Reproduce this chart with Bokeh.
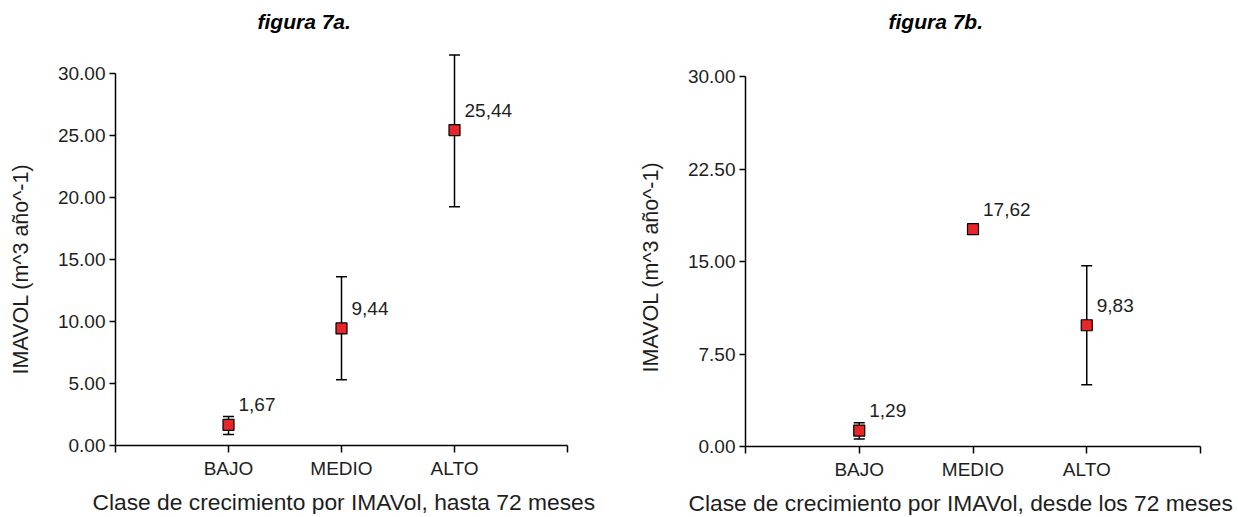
from bokeh.plotting import figure
from bokeh.models import (ColumnDataSource, Whisker, TeeHead, FixedTicker, Title,
                          NumeralTickFormatter, Range1d)
from bokeh.layouts import row
from bokeh.embed import file_html
from bokeh.resources import INLINE
from bokeh.core.properties import value

categories = ["BAJO", "MEDIO", "ALTO"]

# figura 7a (hasta 72 meses)
a_mean = [1.67, 9.44, 25.44]
a_lower = [0.89, 5.30, 19.25]
a_upper = [2.34, 13.60, 31.50]
a_ticks = [0, 5, 10, 15, 20, 25, 30]

# figura 7b (desde los 72 meses)
b_mean = [1.29, 17.62, 9.83]
b_lower = [0.60, None, 5.00]
b_upper = [1.92, None, 14.66]
b_ticks = [0, 7.5, 15, 22.5, 30]

FONT = "Liberation Sans"
TXT = "#1e1e1e"
TOP = 48  # frame top (px)


def spacer(standoff):
    # blank side panel used only to push the next panel outwards
    return Title(text="x", text_font_size="1px", text_color="white", standoff=standoff)


def make(title, xlabel, ylabel, means, lowers, uppers, ticks,
         b_left, f_width, b_right, f_height, px_per_unit,
         title_off, ylabel_off, xlabel_off):
    nx = len(categories) + 1
    y_end = f_height / px_per_unit
    p = figure(frame_width=f_width, frame_height=f_height,
               min_border_left=b_left, min_border_right=b_right,
               min_border_top=TOP, min_border_bottom=20,
               x_range=Range1d(0, nx), y_range=Range1d(0, y_end),
               output_backend="svg", toolbar_location=None)
    p.outline_line_color = None
    p.grid.visible = False
    p.background_fill_color = "white"
    p.border_fill_color = "white"

    # title (spacer next to the frame, then the title)
    p.add_layout(spacer(13), "above")
    p.add_layout(Title(text=title, align="left", offset=title_off, standoff=0,
                       text_font=FONT, text_font_size="21px",
                       text_font_style="bold italic", text_color="black"), "above")

    xs = list(range(1, len(categories) + 1))
    labels = [f"{v:.2f}".replace(".", ",") for v in means]
    src = ColumnDataSource(dict(x=xs, y=means, label=labels))

    wx = [x for x, lo in zip(xs, lowers) if lo is not None]
    wl = [lo for lo in lowers if lo is not None]
    wu = [up for up in uppers if up is not None]
    wsrc = ColumnDataSource(dict(x=wx, lower=wl, upper=wu))
    w = Whisker(source=wsrc, base="x", lower="lower", upper="upper",
                line_color="black", line_width=1.5,
                upper_head=TeeHead(size=11, line_color="black", line_width=1.5),
                lower_head=TeeHead(size=11, line_color="black", line_width=1.5))
    p.add_layout(w)

    p.scatter("x", "y", source=src, marker="square", size=11,
              fill_color="#e8262a", line_color="black", line_width=1.2)
    p.text("x", "y", text="label", source=src, x_offset=10, y_offset=-20,
           text_align="left", text_baseline="middle",
           text_font=value(FONT), text_font_size="19px", text_color=TXT)

    # axes
    xa = p.xaxis[0]
    xa.ticker = FixedTicker(ticks=[0] + xs + [nx])
    ov = {0: "", nx: ""}
    for x, c in zip(xs, categories):
        ov[x] = c
    xa.major_label_overrides = ov
    xa.bounds = (0, nx)
    ya = p.yaxis[0]
    ya.ticker = FixedTicker(ticks=ticks)
    ya.formatter = NumeralTickFormatter(format="0.00")
    ya.bounds = (0, ticks[-1])
    for ax in (xa, ya):
        ax.axis_line_color = "black"
        ax.axis_line_width = 1.5
        ax.major_tick_line_color = "black"
        ax.major_tick_line_width = 1.5
        ax.major_tick_in = 0
        ax.minor_tick_line_color = None
        ax.major_label_text_font = FONT
        ax.major_label_text_font_size = "19px"
        ax.major_label_text_color = TXT
    xa.major_tick_out = 7
    ya.major_tick_out = 6
    xa.major_label_standoff = 5
    ya.major_label_standoff = 4

    # x label as a bottom title (spacer next to the axis, then the label)
    p.add_layout(spacer(2), "below")
    p.add_layout(Title(text=xlabel, align="left", offset=xlabel_off, standoff=0,
                       text_font=FONT, text_font_size="22.8px",
                       text_font_style="normal", text_color=TXT), "below")

    # y label as a side title (spacer next to the axis, then the label)
    p.add_layout(spacer(19), "left")
    p.add_layout(Title(text=ylabel, align="left", offset=ylabel_off, standoff=0,
                       text_font=FONT, text_font_size="21.5px",
                       text_font_style="normal", text_color=TXT), "left")
    return p


pa = make("figura 7a.", "Clase de crecimiento por IMAVol, hasta 72 meses",
          "IMAVOL (m^3 año^-1)", a_mean, a_lower, a_upper, a_ticks,
          115, 452, 53, 397, 12.4, 142, 71, 92 - 115)
pb = make("figura 7b.", "Clase de crecimiento por IMAVol, desde los 72 meses",
          "IMAVOL (m^3 año^-1)", b_mean, b_lower, b_upper, b_ticks,
          125, 455, 38, 398, 12.333, 143, 74, 688 - 745)

layout = row(pa, pb)
open("out.html", "w").write(file_html(layout, INLINE))
